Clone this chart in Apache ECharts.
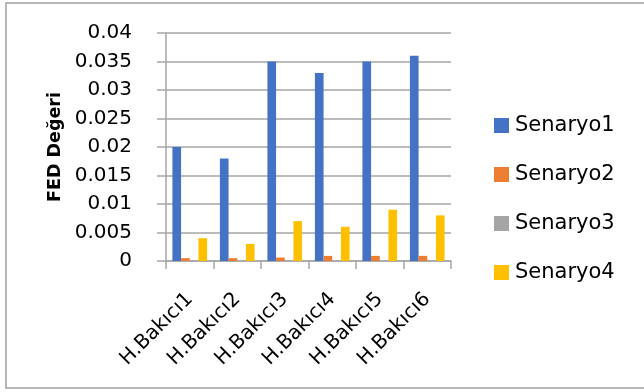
<!DOCTYPE html>
<html>
<head>
<meta charset="utf-8">
<script src="https://cdn.jsdelivr.net/npm/echarts@6/dist/echarts.min.js"></script>
<style>
  html, body { margin: 0; padding: 0; background: #fff; }
  #chart { width: 644px; height: 392px; }
</style>
</head>
<body>
<div id="chart"></div>
<script>
// Caregiver categories and FED values per scenario
const categories = ['H.Bakıcı1', 'H.Bakıcı2', 'H.Bakıcı3', 'H.Bakıcı4', 'H.Bakıcı5', 'H.Bakıcı6'];
const senaryo1 = [0.020, 0.018, 0.035, 0.033, 0.035, 0.036];
const senaryo2 = [0.0005, 0.0005, 0.0006, 0.0009, 0.0009, 0.0009];
const senaryo3 = [0, 0, 0, 0, 0, 0];
const senaryo4 = [0.004, 0.003, 0.007, 0.006, 0.009, 0.008];
const seriesNames = ['Senaryo1', 'Senaryo2', 'Senaryo3', 'Senaryo4'];
const yTicks = { min: 0, max: 0.04, interval: 0.005 };

const colors = ['#4472C4', '#ED7D31', '#A5A5A5', '#FFC000'];
const gridColor = '#A6A6A6';
const textFont = 'DejaVu Sans';

const chart = echarts.init(document.getElementById('chart'), null, { renderer: 'canvas' });

const makeSeries = (name, data, i) => ({
  name,
  type: 'bar',
  data,
  itemStyle: { color: colors[i] },
  barGap: '0%',
  barCategoryGap: '27%'
});

chart.setOption({
  animation: false,
  color: colors,
  grid: { left: 166, right: 193, top: 33, bottom: 131, containLabel: false },
  graphic: [
    {
      type: 'rect',
      shape: { x: 6, y: 3, width: 640, height: 385 },
      style: { fill: 'none', stroke: '#A0A0A0', lineWidth: 1.5 },
      silent: true
    },
    {
      type: 'text',
      x: 55,
      y: 147,
      rotation: Math.PI / 2,
      style: {
        text: 'FED Değeri',
        font: 'bold 17.5px "DejaVu Sans", sans-serif',
        fill: '#000',
        align: 'center',
        verticalAlign: 'middle'
      },
      silent: true
    }
  ],
  legend: {
    orient: 'vertical',
    left: 489,
    top: 110,
    itemWidth: 15,
    itemHeight: 15,
    itemGap: 28,
    icon: 'rect',
    data: seriesNames,
    textStyle: { fontFamily: textFont, fontSize: 21, color: '#000', padding: [0, 0, 0, 1] }
  },
  xAxis: {
    type: 'category',
    data: categories,
    axisLine: { lineStyle: { color: gridColor, width: 1.5 } },
    axisTick: { show: true, length: 8, alignWithLabel: false, lineStyle: { color: gridColor, width: 1.5 } },
    axisLabel: {
      rotate: 45,
      margin: 35,
      fontFamily: textFont,
      fontSize: 20,
      color: '#000',
      interval: 0
    }
  },
  yAxis: {
    type: 'value',
    min: yTicks.min,
    max: yTicks.max,
    interval: yTicks.interval,
    axisLine: { show: true, lineStyle: { color: gridColor, width: 1.5 } },
    axisTick: { show: true, length: 9, lineStyle: { color: gridColor, width: 1.5 } },
    splitLine: { lineStyle: { color: gridColor, width: 1.5 } },
    axisLabel: {
      margin: 34,
      fontFamily: textFont,
      fontSize: 20,
      color: '#000',
      formatter: v => String(+v.toFixed(3))
    }
  },
  series: [
    makeSeries(seriesNames[0], senaryo1, 0),
    makeSeries(seriesNames[1], senaryo2, 1),
    makeSeries(seriesNames[2], senaryo3, 2),
    makeSeries(seriesNames[3], senaryo4, 3)
  ]
});
</script>
</body>
</html>
